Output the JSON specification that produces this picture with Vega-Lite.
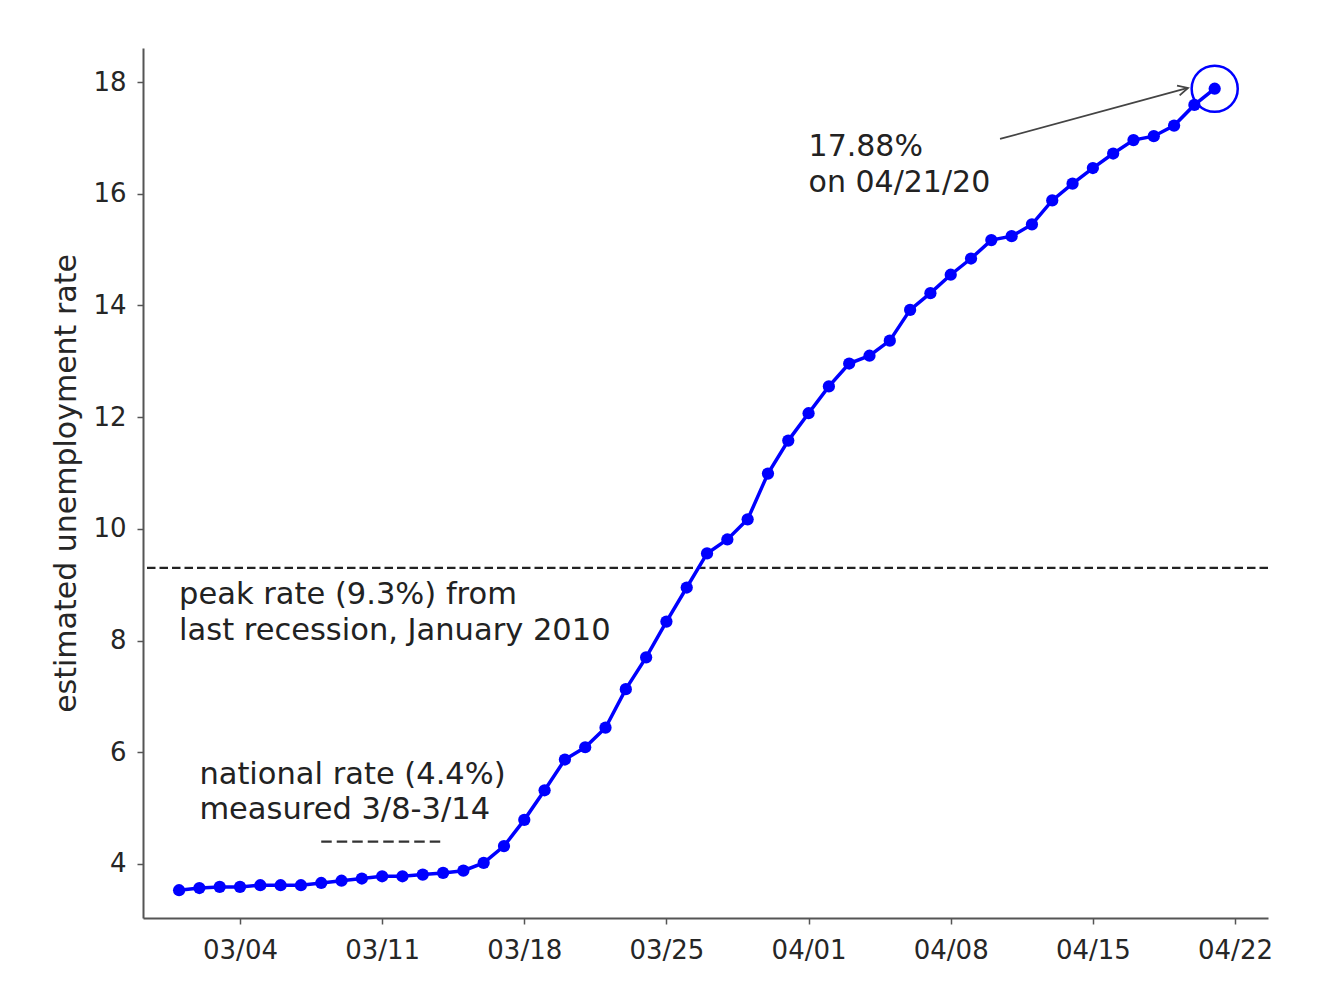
{
  "$schema": "https://vega.github.io/schema/vega-lite/v6.json",
  "width": 1125,
  "height": 870,
  "autosize": {"type": "none"},
  "padding": {"left": 143, "top": 48, "right": 71, "bottom": 78},
  "background": "white",
  "config": {
    "view": {"stroke": null},
    "font": "DejaVu Sans",
    "axis": {
      "grid": false,
      "domainColor": "#555",
      "domainWidth": 2,
      "tickColor": "#555",
      "tickWidth": 1.5,
      "tickSize": 6,
      "labelFont": "DejaVu Sans",
      "labelFontSize": 26,
      "labelColor": "#262626",
      "titleFont": "DejaVu Sans",
      "titleFontWeight": "normal",
      "titleColor": "#262626"
    }
  },
  "datasets": {
    "rate": [
      {"date": "2020-03-01", "rate": 3.53},
      {"date": "2020-03-02", "rate": 3.57},
      {"date": "2020-03-03", "rate": 3.59},
      {"date": "2020-03-04", "rate": 3.59},
      {"date": "2020-03-05", "rate": 3.62},
      {"date": "2020-03-06", "rate": 3.62},
      {"date": "2020-03-07", "rate": 3.62},
      {"date": "2020-03-08", "rate": 3.66},
      {"date": "2020-03-09", "rate": 3.70},
      {"date": "2020-03-10", "rate": 3.74},
      {"date": "2020-03-11", "rate": 3.78},
      {"date": "2020-03-12", "rate": 3.78},
      {"date": "2020-03-13", "rate": 3.81},
      {"date": "2020-03-14", "rate": 3.84},
      {"date": "2020-03-15", "rate": 3.88},
      {"date": "2020-03-16", "rate": 4.02},
      {"date": "2020-03-17", "rate": 4.32},
      {"date": "2020-03-18", "rate": 4.79},
      {"date": "2020-03-19", "rate": 5.32},
      {"date": "2020-03-20", "rate": 5.87},
      {"date": "2020-03-21", "rate": 6.09},
      {"date": "2020-03-22", "rate": 6.44},
      {"date": "2020-03-23", "rate": 7.13},
      {"date": "2020-03-24", "rate": 7.70},
      {"date": "2020-03-25", "rate": 8.34},
      {"date": "2020-03-26", "rate": 8.95},
      {"date": "2020-03-27", "rate": 9.56},
      {"date": "2020-03-28", "rate": 9.81},
      {"date": "2020-03-29", "rate": 10.17},
      {"date": "2020-03-30", "rate": 10.99},
      {"date": "2020-03-31", "rate": 11.58},
      {"date": "2020-04-01", "rate": 12.07},
      {"date": "2020-04-02", "rate": 12.55},
      {"date": "2020-04-03", "rate": 12.96},
      {"date": "2020-04-04", "rate": 13.10},
      {"date": "2020-04-05", "rate": 13.37},
      {"date": "2020-04-06", "rate": 13.92},
      {"date": "2020-04-07", "rate": 14.22},
      {"date": "2020-04-08", "rate": 14.55},
      {"date": "2020-04-09", "rate": 14.84},
      {"date": "2020-04-10", "rate": 15.17},
      {"date": "2020-04-11", "rate": 15.24},
      {"date": "2020-04-12", "rate": 15.45},
      {"date": "2020-04-13", "rate": 15.88},
      {"date": "2020-04-14", "rate": 16.18},
      {"date": "2020-04-15", "rate": 16.46},
      {"date": "2020-04-16", "rate": 16.72},
      {"date": "2020-04-17", "rate": 16.96},
      {"date": "2020-04-18", "rate": 17.03},
      {"date": "2020-04-19", "rate": 17.22},
      {"date": "2020-04-20", "rate": 17.59},
      {"date": "2020-04-21", "rate": 17.88}
    ]
  },
  "layer": [
    {
      "data": {"values": [{}]},
      "mark": {"type": "rule", "color": "#222", "strokeWidth": 2.2, "strokeDash": [8.5, 4]},
      "encoding": {
        "y": {"datum": 9.3, "type": "quantitative", "scale": {"domain": [3.033, 18.609], "nice": false, "zero": false}}
      }
    },
    {
      "data": {"values": [{}]},
      "mark": {"type": "rule", "color": "#333", "strokeWidth": 2.2, "strokeDash": [10.5, 5]},
      "encoding": {
        "x": {"datum": {"year": 2020, "month": 3, "date": 8, "utc": true}, "type": "temporal", "scale": {"type": "utc", "domain": [{"year": 2020, "month": 2, "date": 28, "hours": 5, "minutes": 21, "utc": true}, {"year": 2020, "month": 4, "date": 23, "hours": 15, "utc": true}]}},
        "x2": {"datum": {"year": 2020, "month": 3, "date": 14, "utc": true}},
        "y": {"datum": 4.4, "type": "quantitative", "scale": {"domain": [3.033, 18.609], "nice": false, "zero": false}}
      }
    },
    {
      "data": {"name": "rate"},
      "mark": {"type": "line", "color": "#0000ff", "strokeWidth": 3.5, "point": {"filled": true, "color": "#0000ff", "size": 150, "opacity": 1}},
      "encoding": {
        "x": {
          "field": "date", "type": "temporal",
          "scale": {"type": "utc", "domain": [{"year": 2020, "month": 2, "date": 28, "hours": 5, "minutes": 21, "utc": true}, {"year": 2020, "month": 4, "date": 23, "hours": 15, "utc": true}]},
          "axis": {
            "title": null,
            "format": "%m/%d",
            "labelPadding": 13,
            "labelBaseline": "top",
            "values": [
              {"year": 2020, "month": 3, "date": 4, "utc": true},
              {"year": 2020, "month": 3, "date": 11, "utc": true},
              {"year": 2020, "month": 3, "date": 18, "utc": true},
              {"year": 2020, "month": 3, "date": 25, "utc": true},
              {"year": 2020, "month": 4, "date": 1, "utc": true},
              {"year": 2020, "month": 4, "date": 8, "utc": true},
              {"year": 2020, "month": 4, "date": 15, "utc": true},
              {"year": 2020, "month": 4, "date": 22, "utc": true}
            ]
          }
        },
        "y": {
          "field": "rate", "type": "quantitative",
          "scale": {"domain": [3.033, 18.609], "nice": false, "zero": false},
          "axis": {
            "title": "estimated unemployment rate",
            "titleFontSize": 30,
            "titleX": -68,
            "titleY": 435,
            "titleAngle": 270,
            "titleAlign": "center",
            "titleBaseline": "alphabetic",
            "values": [4, 6, 8, 10, 12, 14, 16, 18],
            "labelPadding": 11
          }
        }
      }
    },
    {
      "data": {"values": [{}]},
      "mark": {"type": "point", "filled": false, "stroke": "#0000ff", "strokeWidth": 2.5, "size": 2124, "opacity": 1, "shape": "circle"},
      "encoding": {
        "x": {"datum": {"year": 2020, "month": 4, "date": 21, "utc": true}, "type": "temporal"},
        "y": {"datum": 17.88, "type": "quantitative"}
      }
    },
    {
      "data": {"values": [{}]},
      "mark": {"type": "rule", "color": "#444", "strokeWidth": 1.8},
      "encoding": {
        "x": {"datum": {"year": 2020, "month": 4, "date": 10, "hours": 10, "minutes": 17, "utc": true}, "type": "temporal"},
        "x2": {"datum": {"year": 2020, "month": 4, "date": 19, "hours": 16, "minutes": 26, "utc": true}},
        "y": {"datum": 16.98, "type": "quantitative"},
        "y2": {"datum": 17.894}
      }
    },
    {
      "data": {"values": [{}]},
      "mark": {"type": "point", "filled": false, "stroke": "#444", "strokeWidth": 1.8, "opacity": 1, "size": 400, "angle": 345, "shape": "M -1 -0.5 L 0 0 L -1 0.5"},
      "encoding": {
        "x": {"datum": {"year": 2020, "month": 4, "date": 19, "hours": 16, "minutes": 26, "utc": true}, "type": "temporal"},
        "y": {"datum": 17.894, "type": "quantitative"}
      }
    },
    {
      "data": {"values": [{}]},
      "mark": {"type": "text", "text": ["17.88%", "on 04/21/20"], "align": "left", "baseline": "alphabetic", "fontSize": 30, "lineHeight": 36, "font": "DejaVu Sans", "color": "#222"},
      "encoding": {
        "x": {"datum": {"year": 2020, "month": 4, "date": 1, "utc": true}, "type": "temporal"},
        "y": {"datum": 16.675, "type": "quantitative"}
      }
    },
    {
      "data": {"values": [{}]},
      "mark": {"type": "text", "text": ["peak rate (9.3%) from", "last recession, January 2010"], "align": "left", "baseline": "alphabetic", "fontSize": 30.5, "lineHeight": 36, "font": "DejaVu Sans", "color": "#222"},
      "encoding": {
        "x": {"datum": {"year": 2020, "month": 3, "date": 1, "utc": true}, "type": "temporal"},
        "y": {"datum": 8.655, "type": "quantitative"}
      }
    },
    {
      "data": {"values": [{}]},
      "mark": {"type": "text", "text": ["national rate (4.4%)", "measured 3/8-3/14"], "align": "left", "baseline": "alphabetic", "fontSize": 30.5, "lineHeight": 35, "font": "DejaVu Sans", "color": "#222"},
      "encoding": {
        "x": {"datum": {"year": 2020, "month": 3, "date": 2, "utc": true}, "type": "temporal"},
        "y": {"datum": 5.432, "type": "quantitative"}
      }
    }
  ]
}
